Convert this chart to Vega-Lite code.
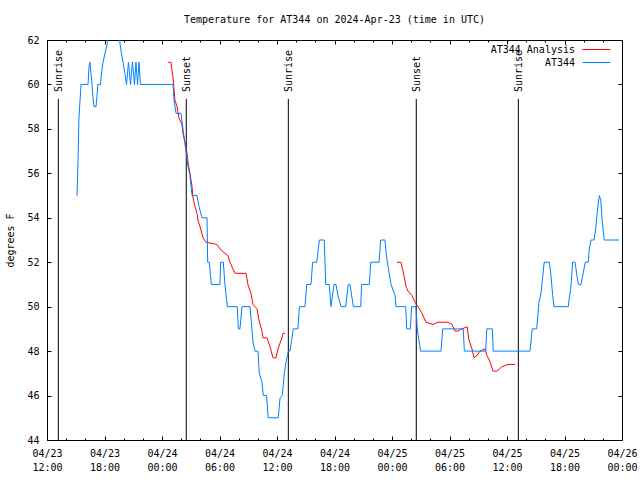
{
  "$schema": "https://vega.github.io/schema/vega-lite/v6.json",
  "width": 575,
  "height": 400,
  "autosize": {"type": "none"},
  "padding": {"left": 47, "top": 40, "right": 18, "bottom": 40},
  "background": "white",
  "title": {"text": "Temperature for AT344 on 2024-Apr-23 (time in UTC)", "font": "DejaVu Sans Mono", "fontSize": 10, "fontWeight": "normal", "color": "black", "anchor": "middle", "frame": "group", "offset": 2, "baseline": "alphabetic"},
  "datasets": {
    "sun": [
      {"t": "2024-04-23T13:11Z", "e": "Sunrise"},
      {"t": "2024-04-24T02:32Z", "e": "Sunset"},
      {"t": "2024-04-24T13:11Z", "e": "Sunrise"},
      {"t": "2024-04-25T02:32Z", "e": "Sunset"},
      {"t": "2024-04-25T13:11Z", "e": "Sunrise"}
    ],
    "temp": [
      {"t": "2024-04-24T00:38Z", "v": 61.0, "s": "AT344 Analysis", "g": 1},
      {"t": "2024-04-24T00:56Z", "v": 61.0, "s": "AT344 Analysis", "g": 1},
      {"t": "2024-04-24T01:09Z", "v": 60.3, "s": "AT344 Analysis", "g": 1},
      {"t": "2024-04-24T01:21Z", "v": 59.3, "s": "AT344 Analysis", "g": 1},
      {"t": "2024-04-24T01:34Z", "v": 59.0, "s": "AT344 Analysis", "g": 1},
      {"t": "2024-04-24T01:46Z", "v": 58.5, "s": "AT344 Analysis", "g": 1},
      {"t": "2024-04-24T02:05Z", "v": 58.2, "s": "AT344 Analysis", "g": 1},
      {"t": "2024-04-24T02:11Z", "v": 57.8, "s": "AT344 Analysis", "g": 1},
      {"t": "2024-04-24T02:24Z", "v": 57.4, "s": "AT344 Analysis", "g": 1},
      {"t": "2024-04-24T02:37Z", "v": 56.9, "s": "AT344 Analysis", "g": 1},
      {"t": "2024-04-24T02:43Z", "v": 56.5, "s": "AT344 Analysis", "g": 1},
      {"t": "2024-04-24T02:55Z", "v": 56.0, "s": "AT344 Analysis", "g": 1},
      {"t": "2024-04-24T03:08Z", "v": 55.4, "s": "AT344 Analysis", "g": 1},
      {"t": "2024-04-24T03:14Z", "v": 54.9, "s": "AT344 Analysis", "g": 1},
      {"t": "2024-04-24T03:27Z", "v": 54.5, "s": "AT344 Analysis", "g": 1},
      {"t": "2024-04-24T03:39Z", "v": 54.2, "s": "AT344 Analysis", "g": 1},
      {"t": "2024-04-24T03:45Z", "v": 53.9, "s": "AT344 Analysis", "g": 1},
      {"t": "2024-04-24T03:58Z", "v": 53.6, "s": "AT344 Analysis", "g": 1},
      {"t": "2024-04-24T04:17Z", "v": 53.1, "s": "AT344 Analysis", "g": 1},
      {"t": "2024-04-24T04:35Z", "v": 52.9, "s": "AT344 Analysis", "g": 1},
      {"t": "2024-04-24T05:44Z", "v": 52.8, "s": "AT344 Analysis", "g": 1},
      {"t": "2024-04-24T06:03Z", "v": 52.6, "s": "AT344 Analysis", "g": 1},
      {"t": "2024-04-24T06:34Z", "v": 52.4, "s": "AT344 Analysis", "g": 1},
      {"t": "2024-04-24T06:53Z", "v": 52.3, "s": "AT344 Analysis", "g": 1},
      {"t": "2024-04-24T07:06Z", "v": 52.0, "s": "AT344 Analysis", "g": 1},
      {"t": "2024-04-24T07:24Z", "v": 51.7, "s": "AT344 Analysis", "g": 1},
      {"t": "2024-04-24T07:37Z", "v": 51.5, "s": "AT344 Analysis", "g": 1},
      {"t": "2024-04-24T08:46Z", "v": 51.5, "s": "AT344 Analysis", "g": 1},
      {"t": "2024-04-24T08:58Z", "v": 51.0, "s": "AT344 Analysis", "g": 1},
      {"t": "2024-04-24T09:17Z", "v": 50.6, "s": "AT344 Analysis", "g": 1},
      {"t": "2024-04-24T09:30Z", "v": 50.1, "s": "AT344 Analysis", "g": 1},
      {"t": "2024-04-24T09:42Z", "v": 50.0, "s": "AT344 Analysis", "g": 1},
      {"t": "2024-04-24T09:55Z", "v": 49.9, "s": "AT344 Analysis", "g": 1},
      {"t": "2024-04-24T10:07Z", "v": 49.4, "s": "AT344 Analysis", "g": 1},
      {"t": "2024-04-24T10:26Z", "v": 48.9, "s": "AT344 Analysis", "g": 1},
      {"t": "2024-04-24T10:32Z", "v": 48.6, "s": "AT344 Analysis", "g": 1},
      {"t": "2024-04-24T10:57Z", "v": 48.6, "s": "AT344 Analysis", "g": 1},
      {"t": "2024-04-24T11:16Z", "v": 48.2, "s": "AT344 Analysis", "g": 1},
      {"t": "2024-04-24T11:35Z", "v": 47.7, "s": "AT344 Analysis", "g": 1},
      {"t": "2024-04-24T11:54Z", "v": 47.7, "s": "AT344 Analysis", "g": 1},
      {"t": "2024-04-24T12:06Z", "v": 48.1, "s": "AT344 Analysis", "g": 1},
      {"t": "2024-04-24T12:31Z", "v": 48.6, "s": "AT344 Analysis", "g": 1},
      {"t": "2024-04-24T12:38Z", "v": 48.8, "s": "AT344 Analysis", "g": 1},
      {"t": "2024-04-24T12:50Z", "v": 48.8, "s": "AT344 Analysis", "g": 1},
      {"t": "2024-04-25T00:31Z", "v": 52.0, "s": "AT344 Analysis", "g": 2},
      {"t": "2024-04-25T00:56Z", "v": 52.0, "s": "AT344 Analysis", "g": 2},
      {"t": "2024-04-25T01:09Z", "v": 51.6, "s": "AT344 Analysis", "g": 2},
      {"t": "2024-04-25T01:28Z", "v": 50.9, "s": "AT344 Analysis", "g": 2},
      {"t": "2024-04-25T01:40Z", "v": 50.7, "s": "AT344 Analysis", "g": 2},
      {"t": "2024-04-25T02:05Z", "v": 50.5, "s": "AT344 Analysis", "g": 2},
      {"t": "2024-04-25T02:24Z", "v": 50.2, "s": "AT344 Analysis", "g": 2},
      {"t": "2024-04-25T02:43Z", "v": 50.0, "s": "AT344 Analysis", "g": 2},
      {"t": "2024-04-25T03:08Z", "v": 49.7, "s": "AT344 Analysis", "g": 2},
      {"t": "2024-04-25T03:33Z", "v": 49.3, "s": "AT344 Analysis", "g": 2},
      {"t": "2024-04-25T04:17Z", "v": 49.2, "s": "AT344 Analysis", "g": 2},
      {"t": "2024-04-25T04:48Z", "v": 49.3, "s": "AT344 Analysis", "g": 2},
      {"t": "2024-04-25T05:19Z", "v": 49.3, "s": "AT344 Analysis", "g": 2},
      {"t": "2024-04-25T05:51Z", "v": 49.3, "s": "AT344 Analysis", "g": 2},
      {"t": "2024-04-25T06:16Z", "v": 49.2, "s": "AT344 Analysis", "g": 2},
      {"t": "2024-04-25T06:34Z", "v": 48.9, "s": "AT344 Analysis", "g": 2},
      {"t": "2024-04-25T06:53Z", "v": 48.9, "s": "AT344 Analysis", "g": 2},
      {"t": "2024-04-25T07:18Z", "v": 49.0, "s": "AT344 Analysis", "g": 2},
      {"t": "2024-04-25T07:50Z", "v": 49.1, "s": "AT344 Analysis", "g": 2},
      {"t": "2024-04-25T08:02Z", "v": 48.5, "s": "AT344 Analysis", "g": 2},
      {"t": "2024-04-25T08:21Z", "v": 48.1, "s": "AT344 Analysis", "g": 2},
      {"t": "2024-04-25T08:33Z", "v": 47.7, "s": "AT344 Analysis", "g": 2},
      {"t": "2024-04-25T08:52Z", "v": 47.8, "s": "AT344 Analysis", "g": 2},
      {"t": "2024-04-25T09:11Z", "v": 48.0, "s": "AT344 Analysis", "g": 2},
      {"t": "2024-04-25T09:42Z", "v": 48.1, "s": "AT344 Analysis", "g": 2},
      {"t": "2024-04-25T09:55Z", "v": 47.8, "s": "AT344 Analysis", "g": 2},
      {"t": "2024-04-25T10:14Z", "v": 47.5, "s": "AT344 Analysis", "g": 2},
      {"t": "2024-04-25T10:32Z", "v": 47.1, "s": "AT344 Analysis", "g": 2},
      {"t": "2024-04-25T10:57Z", "v": 47.1, "s": "AT344 Analysis", "g": 2},
      {"t": "2024-04-25T11:29Z", "v": 47.3, "s": "AT344 Analysis", "g": 2},
      {"t": "2024-04-25T12:06Z", "v": 47.4, "s": "AT344 Analysis", "g": 2},
      {"t": "2024-04-25T12:50Z", "v": 47.4, "s": "AT344 Analysis", "g": 2},
      {"t": "2024-04-23T15:08Z", "v": 55, "s": "AT344"},
      {"t": "2024-04-23T15:14Z", "v": 56.5, "s": "AT344"},
      {"t": "2024-04-23T15:20Z", "v": 58.5, "s": "AT344"},
      {"t": "2024-04-23T15:27Z", "v": 59.3, "s": "AT344"},
      {"t": "2024-04-23T15:33Z", "v": 60, "s": "AT344"},
      {"t": "2024-04-23T16:17Z", "v": 60, "s": "AT344"},
      {"t": "2024-04-23T16:23Z", "v": 60.8, "s": "AT344"},
      {"t": "2024-04-23T16:29Z", "v": 61, "s": "AT344"},
      {"t": "2024-04-23T16:35Z", "v": 60.5, "s": "AT344"},
      {"t": "2024-04-23T16:42Z", "v": 60, "s": "AT344"},
      {"t": "2024-04-23T16:48Z", "v": 59.4, "s": "AT344"},
      {"t": "2024-04-23T16:54Z", "v": 59, "s": "AT344"},
      {"t": "2024-04-23T17:07Z", "v": 59, "s": "AT344"},
      {"t": "2024-04-23T17:13Z", "v": 59.5, "s": "AT344"},
      {"t": "2024-04-23T17:19Z", "v": 60, "s": "AT344"},
      {"t": "2024-04-23T17:35Z", "v": 60, "s": "AT344"},
      {"t": "2024-04-23T17:41Z", "v": 60.5, "s": "AT344"},
      {"t": "2024-04-23T17:51Z", "v": 61, "s": "AT344"},
      {"t": "2024-04-23T18:03Z", "v": 61.4, "s": "AT344"},
      {"t": "2024-04-23T18:16Z", "v": 61.8, "s": "AT344"},
      {"t": "2024-04-23T18:25Z", "v": 62.3, "s": "AT344"},
      {"t": "2024-04-23T18:34Z", "v": 62.6, "s": "AT344"},
      {"t": "2024-04-23T19:18Z", "v": 62.6, "s": "AT344"},
      {"t": "2024-04-23T19:34Z", "v": 62, "s": "AT344"},
      {"t": "2024-04-23T19:46Z", "v": 61.4, "s": "AT344"},
      {"t": "2024-04-23T19:56Z", "v": 61, "s": "AT344"},
      {"t": "2024-04-23T20:08Z", "v": 60.5, "s": "AT344"},
      {"t": "2024-04-23T20:18Z", "v": 60, "s": "AT344"},
      {"t": "2024-04-23T20:30Z", "v": 61, "s": "AT344"},
      {"t": "2024-04-23T20:43Z", "v": 60, "s": "AT344"},
      {"t": "2024-04-23T20:55Z", "v": 61, "s": "AT344"},
      {"t": "2024-04-23T21:08Z", "v": 60, "s": "AT344"},
      {"t": "2024-04-23T21:17Z", "v": 61, "s": "AT344"},
      {"t": "2024-04-23T21:27Z", "v": 60, "s": "AT344"},
      {"t": "2024-04-23T21:36Z", "v": 61, "s": "AT344"},
      {"t": "2024-04-23T21:45Z", "v": 60, "s": "AT344"},
      {"t": "2024-04-24T01:09Z", "v": 60, "s": "AT344"},
      {"t": "2024-04-24T01:15Z", "v": 59.3, "s": "AT344"},
      {"t": "2024-04-24T01:28Z", "v": 58.7, "s": "AT344"},
      {"t": "2024-04-24T01:59Z", "v": 58.7, "s": "AT344"},
      {"t": "2024-04-24T02:11Z", "v": 58, "s": "AT344"},
      {"t": "2024-04-24T02:30Z", "v": 57, "s": "AT344"},
      {"t": "2024-04-24T02:43Z", "v": 56.3, "s": "AT344"},
      {"t": "2024-04-24T02:55Z", "v": 55.9, "s": "AT344"},
      {"t": "2024-04-24T03:08Z", "v": 55, "s": "AT344"},
      {"t": "2024-04-24T03:39Z", "v": 55, "s": "AT344"},
      {"t": "2024-04-24T03:52Z", "v": 54.5, "s": "AT344"},
      {"t": "2024-04-24T04:10Z", "v": 54, "s": "AT344"},
      {"t": "2024-04-24T04:42Z", "v": 54, "s": "AT344"},
      {"t": "2024-04-24T04:46Z", "v": 52, "s": "AT344"},
      {"t": "2024-04-24T04:56Z", "v": 52, "s": "AT344"},
      {"t": "2024-04-24T05:09Z", "v": 51, "s": "AT344"},
      {"t": "2024-04-24T06:03Z", "v": 51, "s": "AT344"},
      {"t": "2024-04-24T06:07Z", "v": 52, "s": "AT344"},
      {"t": "2024-04-24T06:24Z", "v": 52, "s": "AT344"},
      {"t": "2024-04-24T06:34Z", "v": 51, "s": "AT344"},
      {"t": "2024-04-24T06:49Z", "v": 50, "s": "AT344"},
      {"t": "2024-04-24T07:51Z", "v": 50, "s": "AT344"},
      {"t": "2024-04-24T07:58Z", "v": 49, "s": "AT344"},
      {"t": "2024-04-24T08:08Z", "v": 49, "s": "AT344"},
      {"t": "2024-04-24T08:21Z", "v": 50, "s": "AT344"},
      {"t": "2024-04-24T09:11Z", "v": 50, "s": "AT344"},
      {"t": "2024-04-24T09:23Z", "v": 49, "s": "AT344"},
      {"t": "2024-04-24T09:30Z", "v": 48.4, "s": "AT344"},
      {"t": "2024-04-24T09:42Z", "v": 48, "s": "AT344"},
      {"t": "2024-04-24T10:01Z", "v": 48, "s": "AT344"},
      {"t": "2024-04-24T10:09Z", "v": 47, "s": "AT344"},
      {"t": "2024-04-24T10:26Z", "v": 46.6, "s": "AT344"},
      {"t": "2024-04-24T10:34Z", "v": 46, "s": "AT344"},
      {"t": "2024-04-24T10:55Z", "v": 46, "s": "AT344"},
      {"t": "2024-04-24T11:05Z", "v": 45, "s": "AT344"},
      {"t": "2024-04-24T12:08Z", "v": 45, "s": "AT344"},
      {"t": "2024-04-24T12:19Z", "v": 45.9, "s": "AT344"},
      {"t": "2024-04-24T12:33Z", "v": 46, "s": "AT344"},
      {"t": "2024-04-24T12:46Z", "v": 47, "s": "AT344"},
      {"t": "2024-04-24T12:56Z", "v": 47.5, "s": "AT344"},
      {"t": "2024-04-24T13:11Z", "v": 48, "s": "AT344"},
      {"t": "2024-04-24T13:21Z", "v": 48, "s": "AT344"},
      {"t": "2024-04-24T13:32Z", "v": 48.5, "s": "AT344"},
      {"t": "2024-04-24T13:42Z", "v": 49, "s": "AT344"},
      {"t": "2024-04-24T14:11Z", "v": 49, "s": "AT344"},
      {"t": "2024-04-24T14:20Z", "v": 50, "s": "AT344"},
      {"t": "2024-04-24T14:55Z", "v": 50, "s": "AT344"},
      {"t": "2024-04-24T15:06Z", "v": 51, "s": "AT344"},
      {"t": "2024-04-24T15:33Z", "v": 51, "s": "AT344"},
      {"t": "2024-04-24T15:43Z", "v": 52, "s": "AT344"},
      {"t": "2024-04-24T16:09Z", "v": 52, "s": "AT344"},
      {"t": "2024-04-24T16:25Z", "v": 53, "s": "AT344"},
      {"t": "2024-04-24T16:56Z", "v": 53, "s": "AT344"},
      {"t": "2024-04-24T17:05Z", "v": 51, "s": "AT344"},
      {"t": "2024-04-24T17:27Z", "v": 51, "s": "AT344"},
      {"t": "2024-04-24T17:38Z", "v": 50, "s": "AT344"},
      {"t": "2024-04-24T17:57Z", "v": 51, "s": "AT344"},
      {"t": "2024-04-24T18:09Z", "v": 51, "s": "AT344"},
      {"t": "2024-04-24T18:22Z", "v": 50.5, "s": "AT344"},
      {"t": "2024-04-24T18:41Z", "v": 50, "s": "AT344"},
      {"t": "2024-04-24T19:10Z", "v": 50, "s": "AT344"},
      {"t": "2024-04-24T19:26Z", "v": 51, "s": "AT344"},
      {"t": "2024-04-24T19:37Z", "v": 51, "s": "AT344"},
      {"t": "2024-04-24T19:58Z", "v": 50, "s": "AT344"},
      {"t": "2024-04-24T20:44Z", "v": 50, "s": "AT344"},
      {"t": "2024-04-24T20:50Z", "v": 51, "s": "AT344"},
      {"t": "2024-04-24T21:38Z", "v": 51, "s": "AT344"},
      {"t": "2024-04-24T21:47Z", "v": 52, "s": "AT344"},
      {"t": "2024-04-24T22:39Z", "v": 52, "s": "AT344"},
      {"t": "2024-04-24T22:49Z", "v": 53, "s": "AT344"},
      {"t": "2024-04-24T23:16Z", "v": 53, "s": "AT344"},
      {"t": "2024-04-24T23:22Z", "v": 52.5, "s": "AT344"},
      {"t": "2024-04-24T23:31Z", "v": 52, "s": "AT344"},
      {"t": "2024-04-24T23:54Z", "v": 51, "s": "AT344"},
      {"t": "2024-04-25T00:19Z", "v": 50.5, "s": "AT344"},
      {"t": "2024-04-25T00:25Z", "v": 50, "s": "AT344"},
      {"t": "2024-04-25T01:26Z", "v": 50, "s": "AT344"},
      {"t": "2024-04-25T01:32Z", "v": 49, "s": "AT344"},
      {"t": "2024-04-25T01:55Z", "v": 49, "s": "AT344"},
      {"t": "2024-04-25T02:03Z", "v": 50, "s": "AT344"},
      {"t": "2024-04-25T02:30Z", "v": 50, "s": "AT344"},
      {"t": "2024-04-25T02:38Z", "v": 49, "s": "AT344"},
      {"t": "2024-04-25T02:59Z", "v": 48, "s": "AT344"},
      {"t": "2024-04-25T05:07Z", "v": 48, "s": "AT344"},
      {"t": "2024-04-25T05:17Z", "v": 49, "s": "AT344"},
      {"t": "2024-04-25T07:26Z", "v": 49, "s": "AT344"},
      {"t": "2024-04-25T07:33Z", "v": 48, "s": "AT344"},
      {"t": "2024-04-25T09:47Z", "v": 48, "s": "AT344"},
      {"t": "2024-04-25T09:53Z", "v": 49, "s": "AT344"},
      {"t": "2024-04-25T10:28Z", "v": 49, "s": "AT344"},
      {"t": "2024-04-25T10:34Z", "v": 48, "s": "AT344"},
      {"t": "2024-04-25T14:24Z", "v": 48, "s": "AT344"},
      {"t": "2024-04-25T14:38Z", "v": 49, "s": "AT344"},
      {"t": "2024-04-25T15:06Z", "v": 49, "s": "AT344"},
      {"t": "2024-04-25T15:20Z", "v": 50.2, "s": "AT344"},
      {"t": "2024-04-25T15:33Z", "v": 50.6, "s": "AT344"},
      {"t": "2024-04-25T15:42Z", "v": 51.25, "s": "AT344"},
      {"t": "2024-04-25T15:53Z", "v": 52, "s": "AT344"},
      {"t": "2024-04-25T16:25Z", "v": 52, "s": "AT344"},
      {"t": "2024-04-25T16:34Z", "v": 51.5, "s": "AT344"},
      {"t": "2024-04-25T16:46Z", "v": 50.5, "s": "AT344"},
      {"t": "2024-04-25T16:54Z", "v": 50, "s": "AT344"},
      {"t": "2024-04-25T18:24Z", "v": 50, "s": "AT344"},
      {"t": "2024-04-25T18:30Z", "v": 50.4, "s": "AT344"},
      {"t": "2024-04-25T18:39Z", "v": 50.8, "s": "AT344"},
      {"t": "2024-04-25T18:51Z", "v": 52, "s": "AT344"},
      {"t": "2024-04-25T19:06Z", "v": 52, "s": "AT344"},
      {"t": "2024-04-25T19:20Z", "v": 51.3, "s": "AT344"},
      {"t": "2024-04-25T19:27Z", "v": 51, "s": "AT344"},
      {"t": "2024-04-25T19:43Z", "v": 51, "s": "AT344"},
      {"t": "2024-04-25T19:52Z", "v": 51.3, "s": "AT344"},
      {"t": "2024-04-25T20:02Z", "v": 51.7, "s": "AT344"},
      {"t": "2024-04-25T20:10Z", "v": 52, "s": "AT344"},
      {"t": "2024-04-25T20:29Z", "v": 52, "s": "AT344"},
      {"t": "2024-04-25T20:35Z", "v": 52.6, "s": "AT344"},
      {"t": "2024-04-25T20:46Z", "v": 53, "s": "AT344"},
      {"t": "2024-04-25T21:05Z", "v": 53, "s": "AT344"},
      {"t": "2024-04-25T21:15Z", "v": 53.5, "s": "AT344"},
      {"t": "2024-04-25T21:25Z", "v": 54.25, "s": "AT344"},
      {"t": "2024-04-25T21:38Z", "v": 55, "s": "AT344"},
      {"t": "2024-04-25T21:47Z", "v": 54.8, "s": "AT344"},
      {"t": "2024-04-25T21:57Z", "v": 53.75, "s": "AT344"},
      {"t": "2024-04-25T22:09Z", "v": 53, "s": "AT344"},
      {"t": "2024-04-25T23:41Z", "v": 53, "s": "AT344"}
    ]
  },
  "resolve": {"axis": {"x": "independent", "y": "independent"}},
  "layer": [
    {
      "data": {"name": "sun"},
      "mark": {"type": "rule", "color": "black", "strokeWidth": 1},
      "encoding": {
        "x": {"field": "t", "type": "temporal",
          "scale": {"type": "utc", "domain": [{"year": 2024, "month": 4, "date": 23, "hours": 12, "utc": true}, {"year": 2024, "month": 4, "date": 26, "hours": 0, "utc": true}]},
          "axis": {"orient": "top", "title": null, "labels": false, "tickSize": -4,
            "values": [{"year": 2024, "month": 4, "date": 23, "hours": 12, "utc": true}, {"year": 2024, "month": 4, "date": 23, "hours": 18, "utc": true}, {"year": 2024, "month": 4, "date": 24, "hours": 0, "utc": true}, {"year": 2024, "month": 4, "date": 24, "hours": 6, "utc": true}, {"year": 2024, "month": 4, "date": 24, "hours": 12, "utc": true}, {"year": 2024, "month": 4, "date": 24, "hours": 18, "utc": true}, {"year": 2024, "month": 4, "date": 25, "hours": 0, "utc": true}, {"year": 2024, "month": 4, "date": 25, "hours": 6, "utc": true}, {"year": 2024, "month": 4, "date": 25, "hours": 12, "utc": true}, {"year": 2024, "month": 4, "date": 25, "hours": 18, "utc": true}, {"year": 2024, "month": 4, "date": 26, "hours": 0, "utc": true}]}},
        "y": {"datum": 59.35, "type": "quantitative", "scale": {"domain": [44, 62], "nice": false, "zero": false},
          "axis": {"orient": "right", "title": null, "labels": false, "tickSize": -4, "values": [44, 46, 48, 50, 52, 54, 56, 58, 60, 62]}},
        "y2": {"datum": 44}
      }
    },
    {
      "data": {"name": "temp"},
      "transform": [{"filter": "datum.s === 'AT344 Analysis'"}],
      "mark": {"type": "line", "strokeWidth": 1, "clip": true},
      "encoding": {
        "x": {"field": "t", "type": "temporal",
          "scale": {"type": "utc", "domain": [{"year": 2024, "month": 4, "date": 23, "hours": 12, "utc": true}, {"year": 2024, "month": 4, "date": 26, "hours": 0, "utc": true}]},
          "axis": {"orient": "bottom", "title": null, "ticks": true, "tickSize": -4, "labelPadding": 12, "labelFlush": false, "labelOverlap": false, "labelBound": false, "labelLineHeight": 14,
            "labelExpr": "[utcFormat(datum.value, '%m/%d'), utcFormat(datum.value, '%H:%M')]",
            "values": [{"year": 2024, "month": 4, "date": 23, "hours": 12, "utc": true}, {"year": 2024, "month": 4, "date": 23, "hours": 18, "utc": true}, {"year": 2024, "month": 4, "date": 24, "hours": 0, "utc": true}, {"year": 2024, "month": 4, "date": 24, "hours": 6, "utc": true}, {"year": 2024, "month": 4, "date": 24, "hours": 12, "utc": true}, {"year": 2024, "month": 4, "date": 24, "hours": 18, "utc": true}, {"year": 2024, "month": 4, "date": 25, "hours": 0, "utc": true}, {"year": 2024, "month": 4, "date": 25, "hours": 6, "utc": true}, {"year": 2024, "month": 4, "date": 25, "hours": 12, "utc": true}, {"year": 2024, "month": 4, "date": 25, "hours": 18, "utc": true}, {"year": 2024, "month": 4, "date": 26, "hours": 0, "utc": true}]}},
        "y": {"field": "v", "type": "quantitative", "scale": {"domain": [44, 62], "nice": false, "zero": false},
          "axis": {"orient": "left", "title": "degrees F", "titlePadding": 11, "tickSize": -4, "labelPadding": 12, "labelFlush": false, "labelOverlap": false, "values": [44, 46, 48, 50, 52, 54, 56, 58, 60, 62]}},
        "color": {"field": "s", "type": "nominal",
          "scale": {"domain": ["AT344 Analysis", "AT344"], "range": ["#ff0000", "#0080ff"]},
          "legend": {"title": null, "orient": "none", "legendX": 543, "legendY": 3, "direction": "vertical", "symbolType": "M-2.33,0H2.33", "symbolSize": 144, "symbolStrokeWidth": 1, "symbolFillColor": "transparent", "labelAlign": "right", "labelOffset": -28, "rowPadding": 1, "padding": 0, "labelFont": "DejaVu Sans Mono", "labelFontSize": 10, "labelColor": "black"}},
        "detail": {"field": "g"}
      }
    },
    {
      "data": {"name": "temp"},
      "transform": [{"filter": "datum.s === 'AT344'"}],
      "mark": {"type": "line", "strokeWidth": 1, "clip": true},
      "encoding": {
        "x": {"field": "t", "type": "temporal",
          "scale": {"type": "utc", "domain": [{"year": 2024, "month": 4, "date": 23, "hours": 12, "utc": true}, {"year": 2024, "month": 4, "date": 26, "hours": 0, "utc": true}]},
          "axis": {"orient": "bottom", "title": null, "labels": false, "tickSize": -2,
            "values": [{"year": 2024, "month": 4, "date": 23, "hours": 14, "utc": true}, {"year": 2024, "month": 4, "date": 23, "hours": 16, "utc": true}, {"year": 2024, "month": 4, "date": 23, "hours": 20, "utc": true}, {"year": 2024, "month": 4, "date": 23, "hours": 22, "utc": true}, {"year": 2024, "month": 4, "date": 24, "hours": 2, "utc": true}, {"year": 2024, "month": 4, "date": 24, "hours": 4, "utc": true}, {"year": 2024, "month": 4, "date": 24, "hours": 8, "utc": true}, {"year": 2024, "month": 4, "date": 24, "hours": 10, "utc": true}, {"year": 2024, "month": 4, "date": 24, "hours": 14, "utc": true}, {"year": 2024, "month": 4, "date": 24, "hours": 16, "utc": true}, {"year": 2024, "month": 4, "date": 24, "hours": 20, "utc": true}, {"year": 2024, "month": 4, "date": 24, "hours": 22, "utc": true}, {"year": 2024, "month": 4, "date": 25, "hours": 2, "utc": true}, {"year": 2024, "month": 4, "date": 25, "hours": 4, "utc": true}, {"year": 2024, "month": 4, "date": 25, "hours": 8, "utc": true}, {"year": 2024, "month": 4, "date": 25, "hours": 10, "utc": true}, {"year": 2024, "month": 4, "date": 25, "hours": 14, "utc": true}, {"year": 2024, "month": 4, "date": 25, "hours": 16, "utc": true}, {"year": 2024, "month": 4, "date": 25, "hours": 20, "utc": true}, {"year": 2024, "month": 4, "date": 25, "hours": 22, "utc": true}]}},
        "y": {"field": "v", "type": "quantitative", "scale": {"domain": [44, 62], "nice": false, "zero": false}, "axis": null},
        "color": {"field": "s", "type": "nominal",
          "scale": {"domain": ["AT344 Analysis", "AT344"], "range": ["#ff0000", "#0080ff"]},
          "legend": {"title": null, "orient": "none", "legendX": 543, "legendY": 3, "direction": "vertical", "symbolType": "M-2.33,0H2.33", "symbolSize": 144, "symbolStrokeWidth": 1, "symbolFillColor": "transparent", "labelAlign": "right", "labelOffset": -28, "rowPadding": 1, "padding": 0, "labelFont": "DejaVu Sans Mono", "labelFontSize": 10, "labelColor": "black"}}
      }
    },
    {
      "data": {"name": "sun"},
      "mark": {"type": "text", "angle": 270, "align": "left", "baseline": "middle", "dy": 1, "font": "DejaVu Sans Mono", "fontSize": 10, "color": "black"},
      "encoding": {
        "x": {"field": "t", "type": "temporal",
          "scale": {"type": "utc", "domain": [{"year": 2024, "month": 4, "date": 23, "hours": 12, "utc": true}, {"year": 2024, "month": 4, "date": 26, "hours": 0, "utc": true}]},
          "axis": {"orient": "top", "title": null, "labels": false, "tickSize": -2,
            "values": [{"year": 2024, "month": 4, "date": 23, "hours": 14, "utc": true}, {"year": 2024, "month": 4, "date": 23, "hours": 16, "utc": true}, {"year": 2024, "month": 4, "date": 23, "hours": 20, "utc": true}, {"year": 2024, "month": 4, "date": 23, "hours": 22, "utc": true}, {"year": 2024, "month": 4, "date": 24, "hours": 2, "utc": true}, {"year": 2024, "month": 4, "date": 24, "hours": 4, "utc": true}, {"year": 2024, "month": 4, "date": 24, "hours": 8, "utc": true}, {"year": 2024, "month": 4, "date": 24, "hours": 10, "utc": true}, {"year": 2024, "month": 4, "date": 24, "hours": 14, "utc": true}, {"year": 2024, "month": 4, "date": 24, "hours": 16, "utc": true}, {"year": 2024, "month": 4, "date": 24, "hours": 20, "utc": true}, {"year": 2024, "month": 4, "date": 24, "hours": 22, "utc": true}, {"year": 2024, "month": 4, "date": 25, "hours": 2, "utc": true}, {"year": 2024, "month": 4, "date": 25, "hours": 4, "utc": true}, {"year": 2024, "month": 4, "date": 25, "hours": 8, "utc": true}, {"year": 2024, "month": 4, "date": 25, "hours": 10, "utc": true}, {"year": 2024, "month": 4, "date": 25, "hours": 14, "utc": true}, {"year": 2024, "month": 4, "date": 25, "hours": 16, "utc": true}, {"year": 2024, "month": 4, "date": 25, "hours": 20, "utc": true}, {"year": 2024, "month": 4, "date": 25, "hours": 22, "utc": true}]}},
        "y": {"datum": 59.66, "type": "quantitative", "scale": {"domain": [44, 62], "nice": false, "zero": false}, "axis": null},
        "text": {"field": "e"}
      }
    }
  ],
  "config": {
    "view": {"stroke": "black", "strokeWidth": 1},
    "axis": {"domain": false, "grid": false, "tickColor": "black", "tickWidth": 1, "labelFont": "DejaVu Sans Mono", "labelFontSize": 10, "labelColor": "black", "titleFont": "DejaVu Sans Mono", "titleFontSize": 10, "titleFontWeight": "normal", "titleColor": "black"}
  }
}
